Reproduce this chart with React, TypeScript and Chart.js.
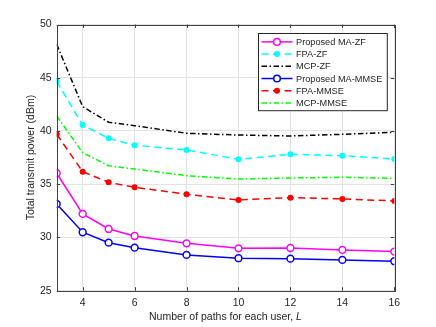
import React, { useEffect, useRef } from "react";
import { Chart, registerables } from "chart.js";

Chart.register(...registerables);

const xValues = [3, 4, 5, 6, 8, 10, 12, 14, 16];
const maZF = [36.03, 32.21, 30.8, 30.14, 29.45, 28.98, 29.01, 28.83, 28.67];
const fpaZF = [44.66, 40.56, 39.31, 38.66, 38.22, 37.34, 37.81, 37.68, 37.37];
const mcpZF = [48.14, 42.28, 40.82, 40.5, 39.78, 39.62, 39.53, 39.69, 39.87];
const maMMSE = [33.15, 30.49, 29.51, 29.04, 28.36, 28.05, 28.01, 27.89, 27.77];
const fpaMMSE = [39.69, 36.18, 35.18, 34.71, 34.06, 33.52, 33.74, 33.62, 33.43];
const mcpMMSE = [41.41, 37.96, 36.74, 36.43, 35.8, 35.49, 35.59, 35.65, 35.56];
const seriesNames = ["Proposed MA-ZF", "FPA-ZF", "MCP-ZF", "Proposed MA-MMSE", "FPA-MMSE", "MCP-MMSE"];
const yTickValues = [25, 30, 35, 40, 45, 50];
const xTitle = "Number of paths for each user, ";
const xTitleVar = "L";
const yTitle = "Total transmit power (dBm)";

const FONT = "'Liberation Sans', Arial, Helvetica, sans-serif";
const TEXT = "#262626";
const DASH = [7, 4.5];
const DASHDOT = [5.5, 2.5, 1.5, 2.5];

type Style = { color: string; dash: number[]; marker: "open" | "filled" | "none" };
const styles: Style[] = [
  { color: "#ff00ff", dash: [], marker: "open" },
  { color: "#00ffff", dash: DASH, marker: "filled" },
  { color: "#000000", dash: DASHDOT, marker: "none" },
  { color: "#0000ff", dash: [], marker: "open" },
  { color: "#ff0000", dash: DASH, marker: "filled" },
  { color: "#00ff00", dash: DASHDOT, marker: "none" },
];
const allSeries = [maZF, fpaZF, mcpZF, maMMSE, fpaMMSE, mcpMMSE];

const overlay = {
  id: "overlay",
  afterDraw(chart: any) {
    const ctx = chart.ctx as CanvasRenderingContext2D;
    const a = chart.chartArea;
    const xs = chart.scales.x;
    const ys = chart.scales.y;
    ctx.save();
    // box
    ctx.strokeStyle = "#404040";
    ctx.lineWidth = 1;
    ctx.setLineDash([]);
    ctx.strokeRect(Math.round(a.left) + 0.5, Math.round(a.top) + 0.5, Math.round(a.right - a.left), Math.round(a.bottom - a.top));
    // ticks
    const tl = 3.5;
    ctx.beginPath();
    xs.ticks.forEach((t: any) => {
      const px = Math.round(xs.getPixelForValue(t.value)) + 0.5;
      ctx.moveTo(px, a.bottom); ctx.lineTo(px, a.bottom - tl);
      ctx.moveTo(px, a.top); ctx.lineTo(px, a.top + tl);
    });
    ys.ticks.forEach((t: any) => {
      const py = Math.round(ys.getPixelForValue(t.value)) + 0.5;
      ctx.moveTo(a.left, py); ctx.lineTo(a.left + tl, py);
      ctx.moveTo(a.right, py); ctx.lineTo(a.right - tl, py);
    });
    ctx.stroke();

    // axis titles
    ctx.fillStyle = TEXT;
    ctx.font = `10.5px ${FONT}`;
    ctx.textBaseline = "middle";
    const w1 = ctx.measureText(xTitle).width;
    ctx.font = `italic 10.5px ${FONT}`;
    const w2 = ctx.measureText(xTitleVar).width;
    const cx = (a.left + a.right) / 2;
    const startX = cx - (w1 + w2) / 2;
    ctx.textAlign = "left";
    ctx.font = `10.5px ${FONT}`;
    ctx.fillText(xTitle, startX, 317.5);
    ctx.font = `italic 10.5px ${FONT}`;
    ctx.fillText(xTitleVar, startX + w1, 317.5);

    ctx.save();
    ctx.translate(a.left - 26, (a.top + a.bottom) / 2);
    ctx.rotate(-Math.PI / 2);
    ctx.textAlign = "center";
    ctx.font = `10.5px ${FONT}`;
    ctx.fillText(yTitle, 0, 0);
    ctx.restore();

    // legend
    ctx.font = `9.2px ${FONT}`;
    let maxW = 0;
    seriesNames.forEach((n) => (maxW = Math.max(maxW, ctx.measureText(n).width)));
    const sampleLen = 31;
    const rowH = 12.2;
    const padL = 3, padR = 5, gap = 3.5;
    const boxW = padL + sampleLen + gap + maxW + padR;
    const boxH = rowH * seriesNames.length + 4;
    const bx = Math.round(a.right - 8 - boxW) + 0.5;
    const by = Math.round(a.top + 8) + 0.5;
    ctx.fillStyle = "#ffffff";
    ctx.fillRect(bx, by, boxW, boxH);
    ctx.strokeStyle = "#262626";
    ctx.lineWidth = 1;
    ctx.strokeRect(bx, by, boxW, boxH);
    seriesNames.forEach((n, i) => {
      const st = styles[i];
      const y = by + 2 + rowH * (i + 0.5) + 0.3;
      const x0 = bx + padL;
      ctx.strokeStyle = st.color;
      ctx.lineWidth = 1.5;
      ctx.setLineDash(st.dash);
      ctx.beginPath();
      ctx.moveTo(x0, y);
      ctx.lineTo(x0 + sampleLen, y);
      ctx.stroke();
      ctx.setLineDash([]);
      const mx = x0 + sampleLen / 2;
      if (st.marker === "open") {
        ctx.fillStyle = "#ffffff";
        ctx.beginPath();
        ctx.arc(mx, y, 3.3, 0, Math.PI * 2);
        ctx.fill();
        ctx.stroke();
      } else if (st.marker === "filled") {
        ctx.fillStyle = st.color;
        ctx.beginPath();
        ctx.arc(mx, y, 3, 0, Math.PI * 2);
        ctx.fill();
      }
      ctx.fillStyle = TEXT;
      ctx.textAlign = "left";
      ctx.textBaseline = "middle";
      ctx.fillText(n, x0 + sampleLen + gap, y + 0.5);
    });
    ctx.restore();
  },
};

export default function App() {
  const ref = useRef<HTMLCanvasElement | null>(null);
  useEffect(() => {
    if (!ref.current) return;
    const datasets = allSeries.map((d, i) => {
      const st = styles[i];
      return {
        label: seriesNames[i],
        data: xValues.map((x, j) => ({ x, y: d[j] })),
        borderColor: st.color,
        backgroundColor: st.color,
        borderWidth: 1.5,
        borderDash: st.dash,
        pointRadius: st.marker === "none" ? 0 : st.marker === "open" ? 3.4 : 3,
        pointBorderWidth: st.marker === "open" ? 1.5 : 0,
        pointBackgroundColor: st.marker === "open" ? "#ffffff" : st.color,
        pointBorderColor: st.color,
        pointStyle: "circle" as const,
        tension: 0,
        order: 6 - i,
      };
    });
    const chart = new Chart(ref.current, {
      type: "line",
      data: { datasets },
      options: {
        animation: false,
        responsive: false,
        maintainAspectRatio: false,
        events: [],
        layout: { padding: { left: 0, top: 24.5, right: 41.7, bottom: 0 } },
        plugins: { legend: { display: false }, tooltip: { enabled: false } },
        scales: {
          x: {
            type: "linear",
            min: 3,
            max: 16,
            afterFit: (s: any) => { s.height = 36.3; },
            ticks: {
              stepSize: 2,
              includeBounds: false,
              padding: 6,
              color: TEXT,
              font: { family: FONT, size: 10.5 },
            },
            grid: { color: "#e3e3e3", drawTicks: false, lineWidth: 1 },
            border: { display: false },
          },
          y: {
            type: "linear",
            min: 25,
            max: 50,
            afterFit: (s: any) => { s.width = 56.7; },
            afterBuildTicks: (s: any) => { s.ticks = yTickValues.map((v) => ({ value: v })); },
            ticks: {
              padding: 5,
              color: TEXT,
              font: { family: FONT, size: 10.5 },
            },
            grid: { color: "#e3e3e3", drawTicks: false, lineWidth: 1 },
            border: { display: false },
          },
        },
      },
      plugins: [overlay],
    });
    return () => chart.destroy();
  }, []);
  return (
    <div style={{ position: "absolute", left: 0, top: 0, width: 436, height: 327, background: "#fff" }}>
      <canvas ref={ref} width={436} height={327} style={{ display: "block", width: 436, height: 327 }} />
    </div>
  );
}
